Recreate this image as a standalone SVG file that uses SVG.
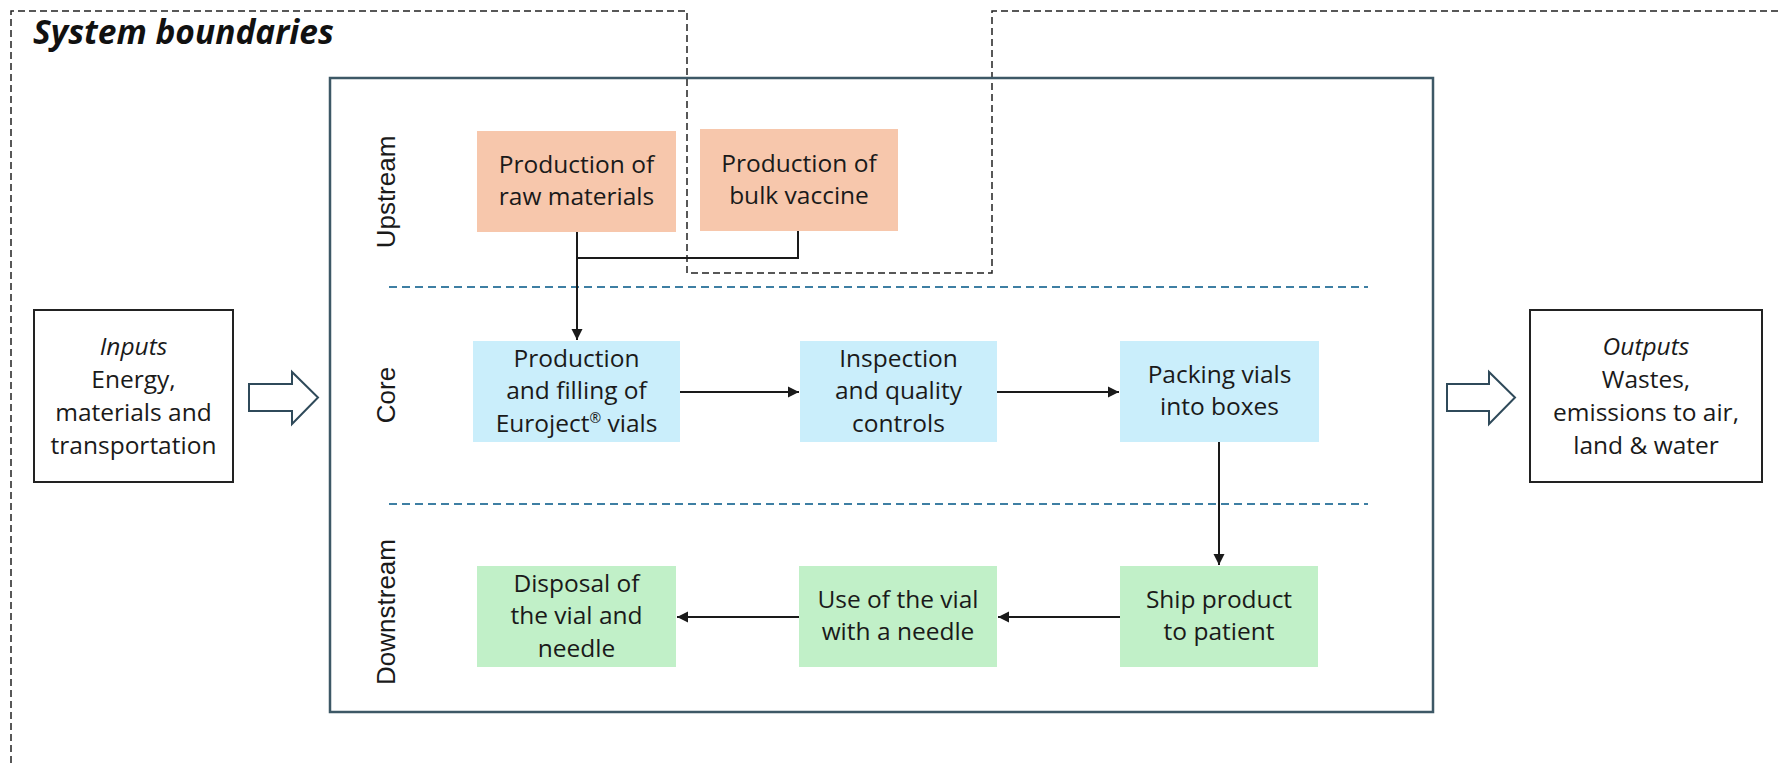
<svg xmlns="http://www.w3.org/2000/svg" width="1780" height="763" viewBox="0 0 1780 763">
<defs>
<marker id="ah" markerUnits="userSpaceOnUse" markerWidth="12" markerHeight="12" refX="11" refY="6" orient="auto">
<path d="M0,0.5 L11,6 L0,11.5 Z" fill="#1a1a1a"/>
</marker>
<style>
.t{font-family:"Open Sans","Liberation Sans",sans-serif;font-size:24.5px;fill:#1a1a1a;text-anchor:middle}
.it{font-style:italic}
.lane{font-family:"Liberation Sans",Arial,sans-serif;font-size:26px;fill:#1a1a1a;text-anchor:middle}
.up{fill:#F7C7AC}
.core{fill:#CAEEFB}
.down{fill:#C1F0C8}
.io{fill:#fff;stroke:#222;stroke-width:2}
.hollow{fill:#fff;stroke:#2F4A5A;stroke-width:2}
.sep{stroke:#3E7FA3;stroke-width:2;stroke-dasharray:8 5;fill:none}
.con{stroke:#1a1a1a;stroke-width:2;fill:none}
</style>
</defs>
<rect width="1780" height="763" fill="#fff"/>

<g id="system-boundary">
<path d="M11 763 V11 H687 V273 H992 V11 H1780" fill="none" stroke="#222" stroke-width="1.5" stroke-dasharray="7 4"/>
<text x="33" y="44" font-family="'Open Sans','Liberation Sans',sans-serif" font-size="33.5" font-weight="bold" font-style="italic" fill="#111">System boundaries</text>
</g>

<g id="main-frame">
<rect x="330" y="78" width="1103" height="634" fill="none" stroke="#3D5866" stroke-width="2.5"/>
<line class="sep" x1="389" y1="287" x2="1368" y2="287"/>
<line class="sep" x1="389" y1="504" x2="1368" y2="504"/>
<text class="lane" transform="translate(395 192) rotate(-90)">Upstream</text>
<text class="lane" transform="translate(395 395) rotate(-90)">Core</text>
<text class="lane" transform="translate(395 612) rotate(-90)">Downstream</text>
</g>

<g id="inputs">
<rect class="io" x="34" y="310" width="199" height="172"/>
<text class="t"><tspan class="it" x="133.5" y="355">Inputs</tspan><tspan x="133.5" y="388">Energy,</tspan><tspan x="133.5" y="421">materials and</tspan><tspan x="133.5" y="454">transportation</tspan></text>
</g>
<g id="inputs-arrow">
<path class="hollow" d="M249 384 H292 V372 L318 397.5 L292 424 V411 H249 Z"/>
</g>

<g id="outputs">
<rect class="io" x="1530" y="310" width="232" height="172"/>
<text class="t"><tspan class="it" x="1646" y="355">Outputs</tspan><tspan x="1646" y="388">Wastes,</tspan><tspan x="1646" y="421">emissions to air,</tspan><tspan x="1646" y="454">land &amp; water</tspan></text>
</g>
<g id="outputs-arrow">
<path class="hollow" d="M1447 384 H1489 V372 L1515 397.5 L1489 424 V411 H1447 Z"/>
</g>

<g id="raw-materials">
<rect class="up" x="477" y="131" width="199" height="101"/>
<text class="t"><tspan x="576.5" y="173">Production of</tspan><tspan x="576.5" y="205">raw materials</tspan></text>
</g>
<g id="bulk-vaccine">
<rect class="up" x="700" y="129" width="198" height="102"/>
<text class="t"><tspan x="799" y="172">Production of</tspan><tspan x="799" y="204">bulk vaccine</tspan></text>
</g>

<g id="production-filling">
<rect class="core" x="473" y="341" width="207" height="101"/>
<text class="t"><tspan x="576.5" y="367">Production</tspan><tspan x="576.5" y="399">and filling of</tspan><tspan x="576.5" y="432">Euroject<tspan font-size="14" dy="-9">®</tspan><tspan dy="9"> vials</tspan></tspan></text>
</g>
<g id="inspection">
<rect class="core" x="800" y="341" width="197" height="101"/>
<text class="t"><tspan x="898.5" y="367">Inspection</tspan><tspan x="898.5" y="399">and quality</tspan><tspan x="898.5" y="432">controls</tspan></text>
</g>
<g id="packing">
<rect class="core" x="1120" y="341" width="199" height="101"/>
<text class="t"><tspan x="1219.5" y="383">Packing vials</tspan><tspan x="1219.5" y="415">into boxes</tspan></text>
</g>

<g id="disposal">
<rect class="down" x="477" y="566" width="199" height="101"/>
<text class="t"><tspan x="576.5" y="592">Disposal of</tspan><tspan x="576.5" y="624">the vial and</tspan><tspan x="576.5" y="657">needle</tspan></text>
</g>
<g id="use-vial">
<rect class="down" x="799" y="566" width="198" height="101"/>
<text class="t"><tspan x="898" y="608">Use of the vial</tspan><tspan x="898" y="640">with a needle</tspan></text>
</g>
<g id="ship">
<rect class="down" x="1120" y="566" width="198" height="101"/>
<text class="t"><tspan x="1219" y="608">Ship product</tspan><tspan x="1219" y="640">to patient</tspan></text>
</g>

<g id="connectors">
<path class="con" d="M577 232 V258 H798 V231"/>
<path class="con" d="M577 258 V340" marker-end="url(#ah)"/>
<path class="con" d="M680 392 H799" marker-end="url(#ah)"/>
<path class="con" d="M997 392 H1119" marker-end="url(#ah)"/>
<path class="con" d="M1219 442 V565" marker-end="url(#ah)"/>
<path class="con" d="M1120 617 H998" marker-end="url(#ah)"/>
<path class="con" d="M799 617 H677" marker-end="url(#ah)"/>
</g>
</svg>
